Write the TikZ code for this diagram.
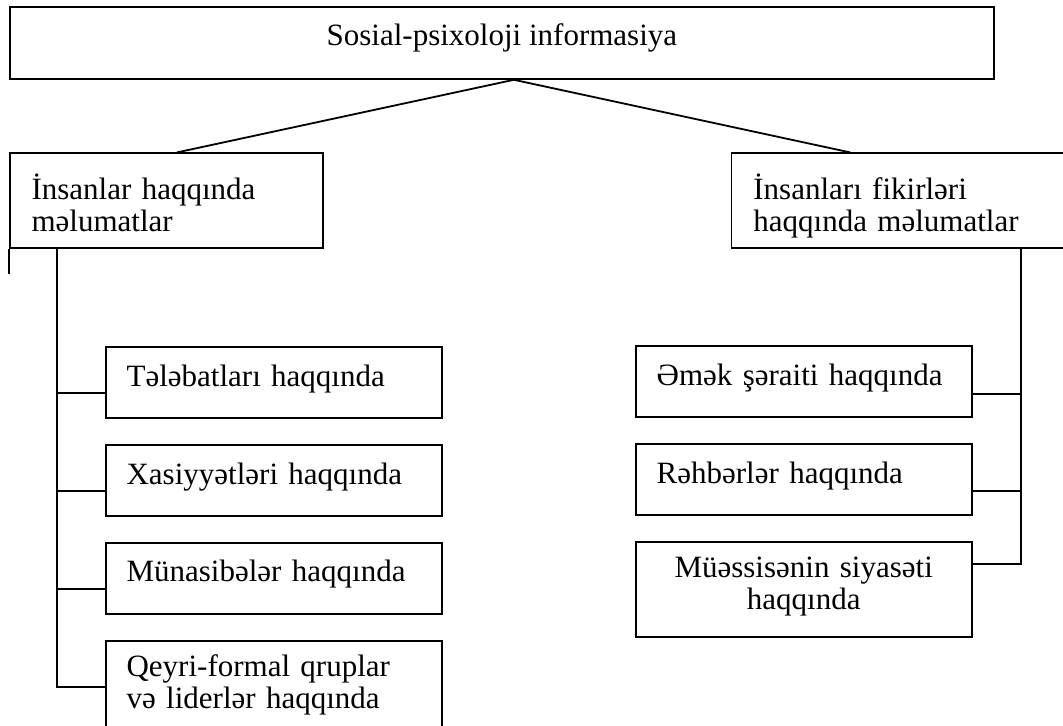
\documentclass[tikz,border=0pt]{standalone}
\usepackage{fontspec}
\setmainfont{Liberation Serif}
\usetikzlibrary{positioning}

\begin{document}
\begin{tikzpicture}[line width=0.9pt,
  font=\fontsize{15.5}{16}\selectfont,
  box/.style={draw,rectangle,inner ysep=4pt},
  head/.style={box,minimum height=47.5pt,text width=134.5pt,inner xsep=11pt,align=left,
    text height=10.5pt,text depth=12pt},
  item/.style={box,minimum height=35.5pt,text width=147pt,inner xsep=10.5pt,align=left,
    text height=10.5pt,text depth=7pt},
  item2/.style={item,minimum height=47.5pt,text depth=22pt}]

  \useasboundingbox (0,0) rectangle (531.5pt,-363pt);

  % Bloklar
  \node[box,anchor=north west,minimum width=492pt,minimum height=36pt,
    text height=10.5pt,text depth=7.5pt] (info) at (4.5pt,-3pt) {Sosial-psixoloji informasiya};
  \node[head,below right=36.35pt and -0.15pt of info.south west] (ppl) {İnsanlar haqqında\\məlumatlar};
  \node[head,right=203.5pt of ppl,text width=148pt] (ideas) {İnsanları fikirləri\\haqqında məlumatlar};

  \node[item,below right=48.5pt and 48pt of ppl.south west] (t1) {Tələbatları haqqında};
  \node[item,below=12.5pt of t1] (t2) {Xasiyyətləri haqqında};
  \node[item,below=12.5pt of t2] (t3) {Münasibələr haqqında};
  \node[item2,below=12.5pt of t3] (t4) {Qeyri-formal qruplar\\və liderlər haqqında};

  \node[item,below left=48pt and 49.85pt of ideas.south east] (r1) {Əmək şəraiti haqqında};
  \node[item,below=12.5pt of r1] (r2) {Rəhbərlər haqqında};
  \node[item2,below=12.5pt of r2,align=center] (r3) {Müəssisənin siyasəti\\haqqında};

  % Xətlər
  \coordinate (lt) at ([xshift=24pt]ppl.south west);
  \coordinate (rt) at ([xshift=-25.85pt]ideas.south east);
  \coordinate (stub) at ([yshift=-12.5pt]ppl.south west);

  \draw ([xshift=6pt]info.south) -- ([xshift=84pt]ppl.north west);
  \draw ([xshift=6pt]info.south) -- ([xshift=60pt]ideas.north west);
  \draw (ppl.south west) -- (stub);

  \draw (lt) |- ([yshift=-23.5pt]t1.north west)
        (lt) |- ([yshift=-23.5pt]t2.north west)
        (lt) |- ([yshift=-23.5pt]t3.north west)
        (lt) |- ([yshift=-23.5pt]t4.north west);

  \draw (rt) |- ([yshift=-24.5pt]r1.north east)
        (rt) |- ([yshift=-24pt]r2.north east)
        (rt) |- ([yshift=-11.35pt]r3.north east);

\end{tikzpicture}
\end{document}
